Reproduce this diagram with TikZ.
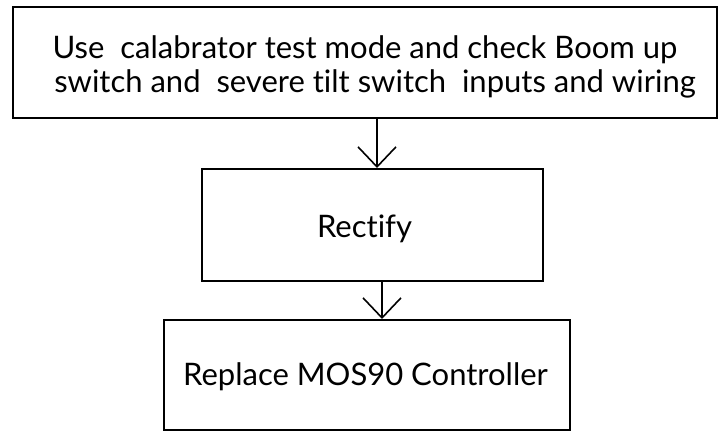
\documentclass[tikz,border=0pt]{standalone}
\usepackage{fontspec}
\setmainfont{Lato}[Ligatures={NoCommon}]
\usetikzlibrary{arrows.meta}
\begin{document}
\begin{tikzpicture}[x=1pt,y=1pt,
  box/.style={draw=black, line width=2pt, rectangle, inner sep=0pt},
  lbl/.style={anchor=base, inner sep=0pt, font=\fontsize{31}{34}\selectfont},
  arr/.style={line width=1.6pt, -{Straight Barb[length=20pt,width=38pt,line width=1.6pt]}}]
\useasboundingbox (0,0) rectangle (723,-432);
\node[box, minimum width=704pt, minimum height=111pt] (b1) at (365,-62.5) {};
\node[box, minimum width=341pt, minimum height=112pt] (b2) at (372.5,-225) {};
\node[box, minimum width=406pt, minimum height=110pt] (b3) at (367,-375) {};
\node[lbl] (t1a) at (365,-58) {Use\ \ calabrator test mode and check Boom up};
\node[lbl] (t1b) at (375,-92) {switch and\ \ severe tilt switch\ \ inputs and wiring};
\node[lbl] (t2) at (364.5,-237) {Rectify};
\node[lbl] (t3) at (365.5,-385) {Replace MOS90 Controller};
\draw[arr] ([xshift=12pt]b1.south) -- ([xshift=4.5pt]b2.north);
\draw[arr] ([xshift=9.5pt]b2.south) -- ([xshift=15pt]b3.north);
\end{tikzpicture}
\end{document}
